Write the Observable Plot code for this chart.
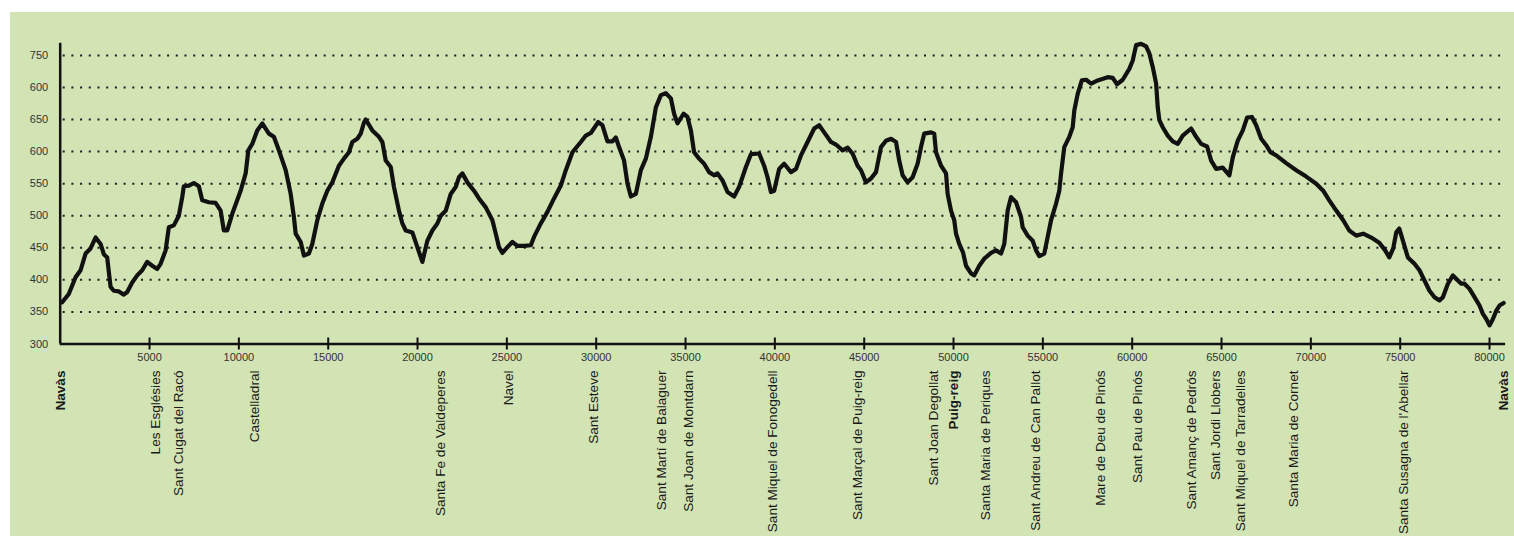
<!DOCTYPE html>
<html>
<head>
<meta charset="utf-8">
<script src="https://cdn.jsdelivr.net/npm/d3@7"></script>
<script src="https://cdn.jsdelivr.net/npm/@observablehq/plot@0.6"></script>
<style>
html, body { margin: 0; padding: 0; background: #ffffff; }
#panel { position: absolute; left: 10px; top: 12px; width: 1504px; height: 524px; background: #d2e3b4; overflow: hidden; }
</style>
</head>
<body>
<div id="panel"></div>
<script>
// Route distance (m) and elevation (m)
const distance = [110,480,860,1140,1420,1700,1980,2260,2440,2630,2820,3000,3280,3560,3750,4030,4310,4590,4870,5150,5430,5620,5900,6080,6360,6640,6830,6920,7200,7480,7760,7950,8320,8700,8980,9160,9350,9630,10100,10380,10530,10750,11030,11310,11680,11960,12240,12620,12900,13080,13180,13460,13640,13920,14110,14390,14670,14950,15230,15600,15880,16160,16350,16630,16820,17000,17100,17470,17840,18030,18220,18500,18680,18960,19150,19340,19710,19990,20270,20550,20830,21110,21300,21580,21860,22140,22320,22510,22790,23160,23440,23820,24190,24380,24560,24750,25030,25310,25590,25960,26340,26520,26900,27270,27640,28020,28300,28670,29140,29420,29700,30110,30350,30630,30910,31100,31280,31560,31750,31940,32220,32500,32780,33060,33340,33620,33900,34180,34360,34550,34890,35110,35300,35480,35760,36040,36320,36600,36790,37070,37350,37720,38000,38380,38660,39120,39400,39590,39780,39960,40240,40520,40900,41180,41460,41830,42200,42480,42760,43140,43420,43790,44070,44350,44630,44820,45100,45380,45660,45940,46220,46500,46780,46960,47150,47430,47710,47990,48180,48360,48740,48920,49020,49300,49580,49670,49860,50040,50140,50320,50530,50700,50980,51160,51440,51720,52100,52380,52660,52840,53030,53220,53500,53780,53870,54150,54430,54620,54800,55080,55270,55460,55740,55920,56020,56200,56480,56670,56760,56950,57180,57420,57700,58070,58630,58910,59150,59470,59840,60030,60220,60500,60780,60960,61150,61340,61430,61520,61710,61990,62270,62550,62830,63300,63580,63860,64190,64420,64700,65070,65440,65630,65910,66190,66430,66700,66940,67220,67500,67740,68060,68620,69180,69740,70300,70690,71030,71420,71810,72150,72540,72930,73380,73830,74160,74390,74610,74780,74950,75110,75430,75800,76080,76360,76640,76920,77200,77390,77670,77950,78230,78420,78600,78880,79160,79440,79630,79820,80000,80190,80380,80560,80790];
const elevation = [365,378,404,415,441,449,466,456,440,435,389,383,382,377,381,396,407,415,428,422,417,425,446,482,485,500,529,546,547,551,546,524,521,520,508,477,477,503,539,566,602,612,633,644,628,623,602,571,534,498,472,459,438,441,456,493,519,539,552,578,589,599,615,620,628,645,650,633,623,615,586,576,545,508,488,477,474,451,428,461,477,488,500,508,534,545,560,566,552,539,527,513,493,472,451,442,451,459,453,453,454,467,488,506,527,547,571,599,615,625,629,646,641,616,616,622,607,586,550,530,534,571,589,623,669,688,691,683,659,644,659,654,633,599,589,581,568,563,566,555,537,530,545,576,596,597,578,560,537,539,573,581,568,573,594,615,636,641,630,615,611,602,606,597,578,571,552,558,568,607,617,620,615,586,563,552,560,581,607,628,630,628,599,578,566,534,508,493,472,456,443,422,410,407,422,433,442,446,441,456,508,529,521,498,482,469,461,446,437,441,467,493,519,539,566,607,623,638,664,690,711,712,706,711,716,715,705,712,729,742,766,768,764,753,732,706,669,649,638,625,616,612,625,636,623,612,608,586,573,575,563,591,617,633,653,654,641,620,610,599,594,582,571,561,550,539,524,508,493,477,469,472,466,458,446,435,449,474,480,465,435,425,415,399,383,373,368,373,394,407,399,394,394,386,373,360,347,339,329,339,352,360,364];

// Places along the route
const stopNames = ["Navàs","Les Esglésies","Sant Cugat del Racó","Castelladral","Santa Fe de Valdeperes","Navel","Sant Esteve","Sant Martí de Balaguer","Sant Joan de Montdarn","Sant Miquel de Fonogedell","Sant Marçal de Puig-reig","Sant Joan Degollat","Puig-reig","Santa Maria de Periques","Sant Andreu de Can Pallot","Mare de Deu de Pinós","Sant Pau de Pinós","Sant Amanç de Pedrós","Sant Jordi Llobers","Sant Miquel de Tarradelles","Santa Maria de Cornet","Santa Susagna de l'Abellar","Navàs"];
const stopDistance = [0,5340,6620,10880,21290,25100,29860,33670,35180,39880,44640,48900,50020,51810,54610,58250,60320,63340,64690,66090,69050,75210,80810];
const mainTowns = ["Navàs","Puig-reig"];

// Axis ticks
const xTicks = [5000,10000,15000,20000,25000,30000,35000,40000,45000,50000,55000,60000,65000,70000,75000,80000];
const yTicks = [300,350,400,450,500,550,600,650,700,750];
const yTickLabels = ["300","350","400","450","500","550","600","650","600","750"];

const profile = distance.map((d, i) => ({d, e: elevation[i]}));
const stops = stopNames.map((name, i) => ({name, d: stopDistance[i], main: mainTowns.includes(name)}));

const font = "'Liberation Sans', Arial, Helvetica, sans-serif";

const chart = Plot.plot({
  width: 1504,
  height: 524,
  marginLeft: 49.7,
  marginRight: 8.9,
  marginTop: 30.7,
  marginBottom: 192.5,
  style: {background: "transparent", fontFamily: font, overflow: "visible"},
  x: {domain: [0, 80900]},
  y: {domain: [300, 769]},
  marks: [
    Plot.ruleY(yTicks.filter(v => v > 300), {y: d => d, stroke: "#1e1e1e", strokeWidth: 2, strokeDasharray: "2,6.7", insetLeft: 3, insetRight: 5}),
    Plot.axisY({ticks: yTicks, tickSize: 0, tickPadding: 12, tickFormat: v => yTickLabels[yTicks.indexOf(v)], fontSize: 11, color: "#333", label: null}),
    Plot.axisX({ticks: xTicks, tickSize: 0, tickPadding: 9, tickFormat: "d", fontSize: 11, color: "#333", label: null}),
    Plot.ruleX(xTicks, {x: d => d, y1: 300, y2: 300, insetTop: -6, insetBottom: -6, stroke: "#111", strokeWidth: 2}),
    Plot.ruleY([300], {stroke: "#111", strokeWidth: 2.5}),
    Plot.ruleX([0], {stroke: "#111", strokeWidth: 2.5}),
    Plot.line(profile, {x: "d", y: "e", stroke: "#111", strokeWidth: 4.2, strokeLinejoin: "round", strokeLinecap: "round"}),
    Plot.text(stops.filter(s => !s.main), {x: "d", text: "name", frameAnchor: "bottom", rotate: -90, textAnchor: "end", lineAnchor: "middle", dy: 26.5, fontSize: 13.6, fill: "#1a1a1a"}),
    Plot.text(stops.filter(s => s.main), {x: "d", text: "name", frameAnchor: "bottom", rotate: -90, textAnchor: "end", lineAnchor: "middle", dy: 26.5, fontSize: 13.6, fontWeight: "bold", fill: "#1a1a1a"})
  ]
});
document.getElementById("panel").appendChild(chart);
</script>
</body>
</html>
